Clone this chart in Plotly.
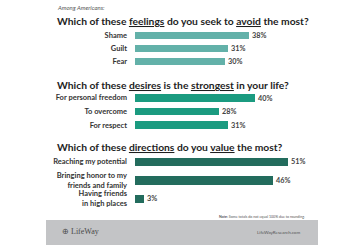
import plotly.graph_objects as go

W, H = 364, 245

# ---- data ----
feelings = ["Shame", "Guilt", "Fear"]
feelings_vals = [38, 31, 30]

desires = ["For personal freedom", "To overcome", "For respect"]
desires_vals = [40, 28, 31]

directions = ["Reaching my potential", "Bringing honor to my<br>friends and family", "Having friends<br>in high places"]
directions_vals = [51, 46, 3]

titles = [
    "Which of these <span style='text-decoration:underline'>feelings</span> do you seek to <span style='text-decoration:underline'>avoid</span> the most?",
    "Which of these <span style='text-decoration:underline'>desires</span> is the <span style='text-decoration:underline'>strongest</span> in your life?",
    "Which of these <span style='text-decoration:underline'>directions</span> do you <span style='text-decoration:underline'>value</span> the most?",
]
subtitle = "Among Americans:"
note = "<b>Note:</b> Some totals do not equal 100% due to rounding."
site = "LifeWayResearch.com"
logo = "LifeWay"

def px_x(p):
    return p / W

def px_y(p):
    return 1 - p / H

FONT = "Lato"
sections = [
    (feelings, feelings_vals, "#63b1a9", (29, 68), 0.56, 21),
    (desires, desires_vals, "#1b9b80", (91, 132), 0.58, 85),
    (directions, directions_vals, "#236c5d", (152.5, 207.5), 0.45, 147),
]

fig = go.Figure()
annotations = []
for i, (cats, vals, color, (top, bot), bw, ty) in enumerate(sections):
    n = i + 1
    xa = "x" if n == 1 else f"x{n}"
    ya = "y" if n == 1 else f"y{n}"
    fig.add_trace(go.Bar(
        x=vals, y=cats, orientation="h",
        marker=dict(color=color, line=dict(width=0)),
        width=bw,
        text=[f"{v}%" for v in vals],
        textposition="outside",
        textfont=dict(family=FONT, size=7.3, color="#444444", weight="bold"),
        constraintext="none",
        cliponaxis=False,
        xaxis=xa, yaxis=ya,
        showlegend=False,
        hoverinfo="skip",
    ))
    xkey = "xaxis" if n == 1 else f"xaxis{n}"
    ykey = "yaxis" if n == 1 else f"yaxis{n}"
    fig.update_layout(**{
        xkey: dict(domain=[px_x(135), px_x(315)], range=[0, 60],
                   showgrid=False, zeroline=False, showticklabels=False,
                   showline=False, anchor=ya, fixedrange=True),
        ykey: dict(domain=[px_y(bot), px_y(top)], anchor=xa,
                   categoryorder="array", categoryarray=cats,
                   autorange="reversed", showgrid=False, zeroline=False,
                   showline=False, ticks="", ticklabelstandoff=7,
                   tickfont=dict(family=FONT, size=7.5, color="#333333", weight="bold"),
                   fixedrange=True),
    })
    annotations.append(dict(
        text=titles[i], x=px_x(55), y=px_y(ty), xref="paper", yref="paper",
        xanchor="left", yanchor="middle", showarrow=False,
        font=dict(family=FONT, size=10.3, color="#1e1e1e", weight="bold"),
    ))

annotations.append(dict(
    text=f"<i>{subtitle}</i>", x=px_x(55), y=px_y(7), xref="paper", yref="paper",
    xanchor="left", yanchor="middle", showarrow=False,
    font=dict(family=FONT, size=6, color="#555555"),
))
annotations.append(dict(
    text=note, x=px_x(307), y=px_y(216), xref="paper", yref="paper",
    xanchor="right", yanchor="middle", showarrow=False,
    font=dict(family=FONT, size=3.6, color="#555555"),
))
annotations.append(dict(
    text=site, x=px_x(302), y=px_y(232), xref="paper", yref="paper",
    xanchor="right", yanchor="middle", showarrow=False,
    font=dict(family=FONT, size=4.5, color="#555555"),
))
annotations.append(dict(
    text="⊕ " + logo, x=px_x(60), y=px_y(231), xref="paper", yref="paper",
    xanchor="left", yanchor="middle", showarrow=False,
    font=dict(family="Liberation Serif", size=8, color="#4a4a4a"),
))

shapes = [dict(type="rect", xref="paper", yref="paper",
               x0=px_x(46), x1=px_x(318), y0=0, y1=px_y(220),
               fillcolor="#c3c4c6", line=dict(width=0), layer="below")]

fig.update_layout(
    width=W, height=H, autosize=False,
    margin=dict(l=0, r=0, t=0, b=0, pad=0),
    paper_bgcolor="white", plot_bgcolor="white",
    annotations=annotations, shapes=shapes,
    bargap=0,
)

fig.write_html("out.html", config={"displayModeBar": False})
